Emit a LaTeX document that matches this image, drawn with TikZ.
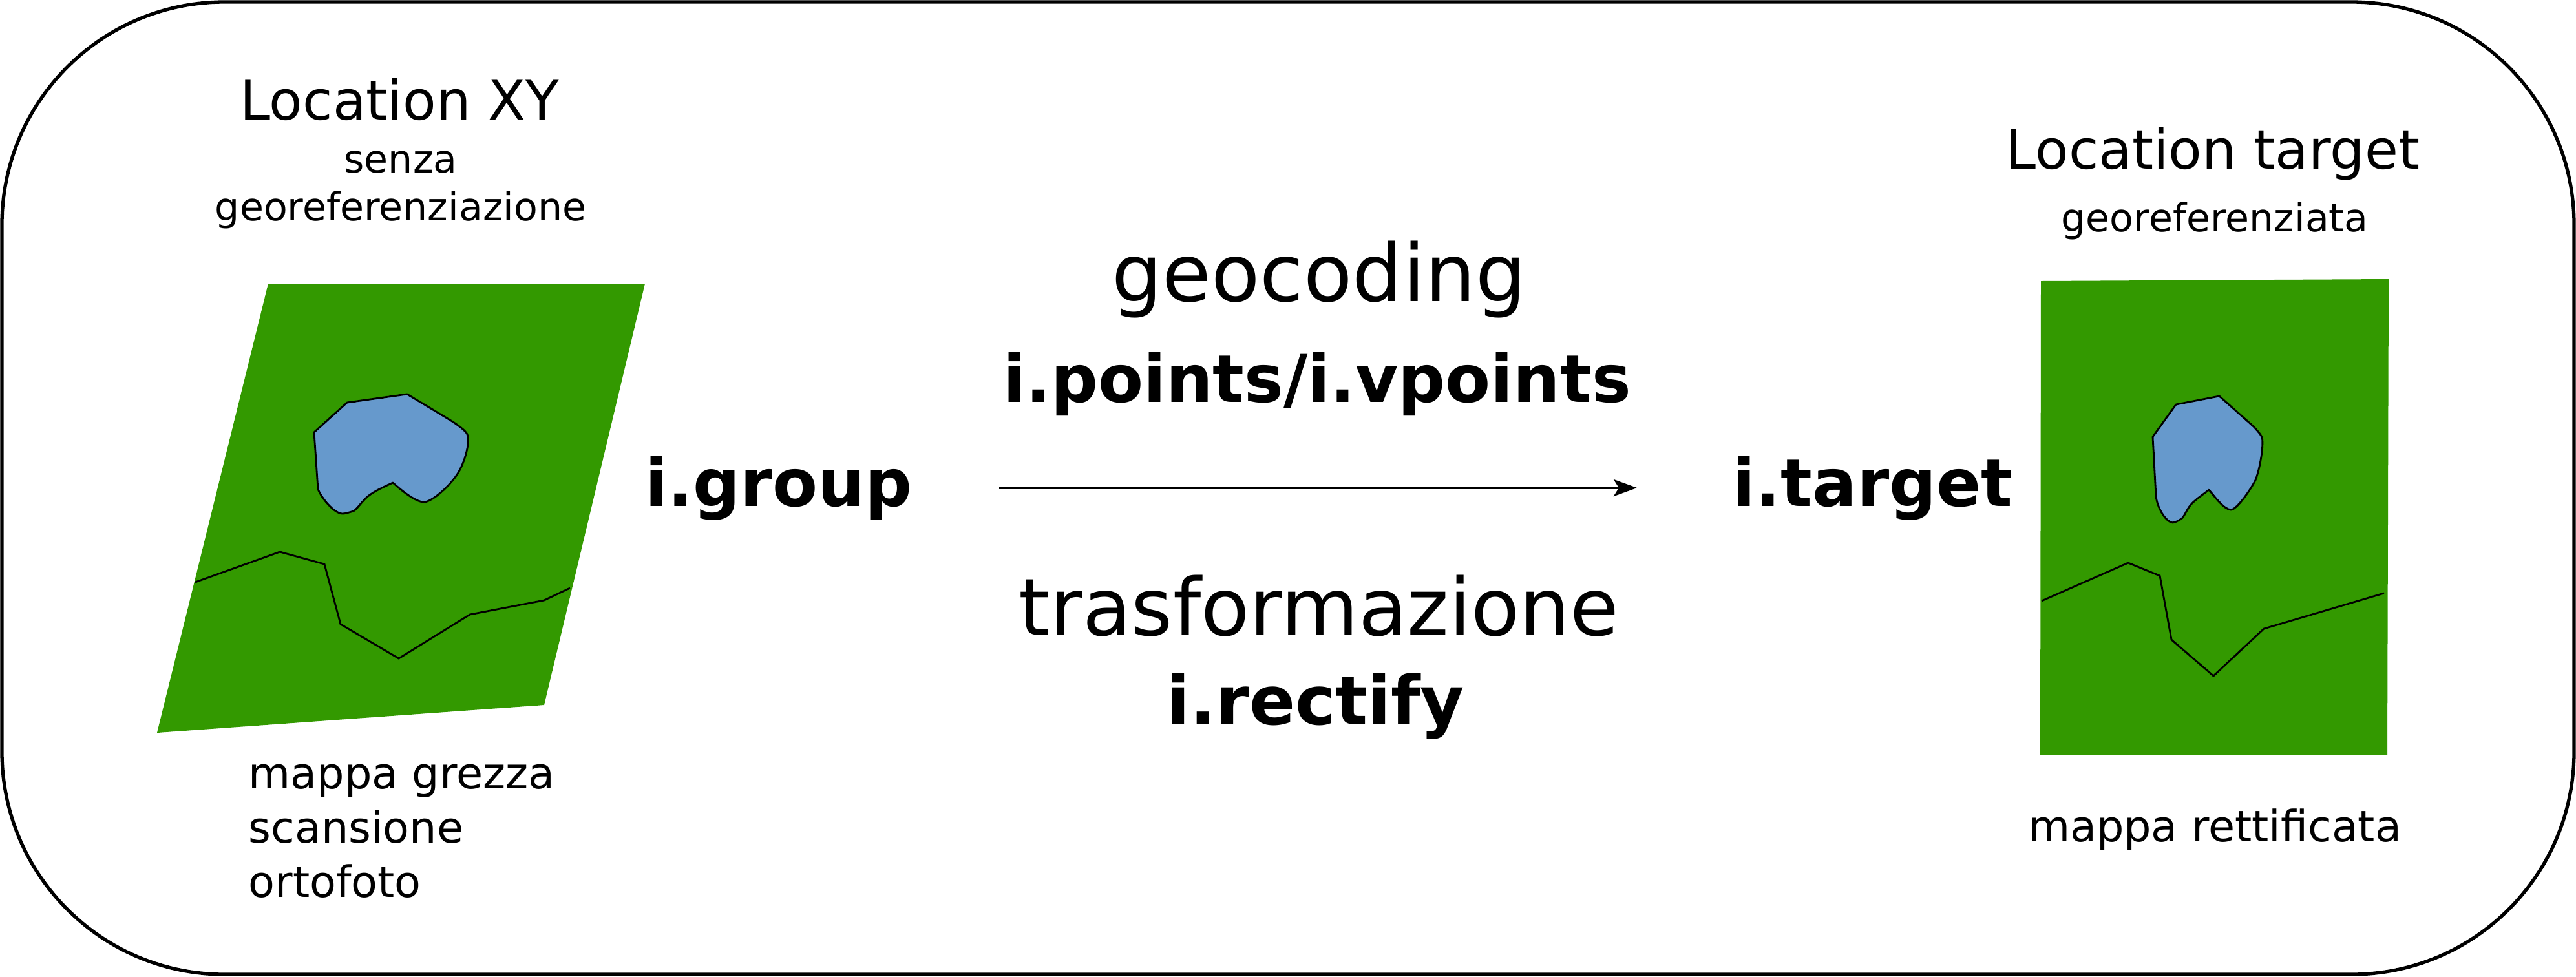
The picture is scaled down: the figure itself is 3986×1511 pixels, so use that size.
\documentclass[tikz,border=0pt]{standalone}
\usepackage{fontspec}
\setmainfont{DejaVu Sans}
\usetikzlibrary{arrows.meta}
\definecolor{mapgreen}{HTML}{339900}
\definecolor{lakeblue}{HTML}{6699CC}
\tikzset{
  frame/.style={draw=black,line width=1.5pt,rounded corners=98pt},
  land/.style={fill=mapgreen,draw=none},
  lake/.style={fill=lakeblue,draw=black,line width=0.8pt,line join=round},
  river/.style={draw=black,line width=0.8pt,line join=miter},
  txt/.style={inner sep=0pt,anchor=base,text=black},
  title/.style={txt,font=\fontsize{24}{28}\selectfont},
  small/.style={txt,font=\fontsize{17.1}{20}\selectfont},
  note/.style={txt,font=\fontsize{19}{23}\selectfont},
  big/.style={txt,font=\fontsize{35}{42}\selectfont},
  cmd/.style={txt,font=\fontsize{29}{35}\selectfont\bfseries},
  flow/.style={draw=black,line width=1.1pt,-{Stealth[length=36\pxu,width=26\pxu,inset=8\pxu]}}
}
\newcommand{\pxu}{*0.2845pt}
\begin{document}
\begin{tikzpicture}[x=0.01cm,y=-0.01cm]
\useasboundingbox (0,0) rectangle (3986,1511);
\draw[frame] (3,3) rectangle (3983,1508);
% left map
\fill[land] (415,439) -- (998,439) -- (842,1091) -- (243,1134) -- cycle;
\draw[lake] (486,669) -- (537,623) -- (630,610) -- (693,648)
  .. controls (708,657) and (720,666) .. (723,672)
  .. controls (727,682) and (722,708) .. (710,730)
  .. controls (697,752) and (668,777) .. (656,777)
  .. controls (643,777) and (620,758) .. (608,747)
  .. controls (590,755) and (574,763) .. (566,771)
  .. controls (558,779) and (552,788) .. (547,791)
  .. controls (540,793) and (534,795) .. (530,795)
  .. controls (517,795) and (497,770) .. (492,757) -- cycle;
\draw[river] (302,901) -- (433,854) -- (502,873) -- (527,966) -- (617,1019) -- (727,951) -- (842,929) -- (882,910);
% right map
\fill[land] (3158,435) -- (3696,432) -- (3694,1168) -- (3157,1168) -- cycle;
\draw[lake] (3331,676) -- (3367,626) -- (3434,613) -- (3487,660)
  .. controls (3497,671) and (3499,674) .. (3500,677)
  .. controls (3503,686) and (3498,722) .. (3490,743)
  .. controls (3480,762) and (3460,789) .. (3452,789)
  .. controls (3441,788) and (3428,770) .. (3418,758)
  .. controls (3408,766) and (3397,773) .. (3390,781)
  .. controls (3383,789) and (3380,800) .. (3375,803)
  .. controls (3371,806) and (3366,808) .. (3362,809)
  .. controls (3350,807) and (3338,785) .. (3336,768) -- cycle;
\draw[river] (3159,930) -- (3293,871) -- (3342,891) -- (3360,990) -- (3425,1046) -- (3503,973) -- (3689,918);
% arrow
\coordinate (flowstart) at (1546,755);
\coordinate (flowend) at (2533,755);
\draw[flow] (flowstart) -- (flowend);
% labels
\node[title] (locxy) at (618,185) {Location XY};
\node[small] (senza) at (620,267) {senza};
\node[small] (georef) at (620,341) {georeferenziazione};
\node[cmd] (group) at (1205,783) {i.group};
\node[big] (geocoding) at (2041,466) {geocoding};
\node[cmd] (points) at (2038,622) {i.points/i.vpoints};
\node[big] (trasf) at (2041,983) {trasformazione};
\node[cmd,font=\fontsize{29.8}{35}\selectfont\bfseries] (rectify) at (2036,1121) {i.rectify};
\node[cmd] (target) at (2898,783) {i.target};
\node[title] (loctarget) at (3424,261) {Location target};
\node[small] (georefta) at (3427,358) {georeferenziata};
\node[note,anchor=base west] (mappa) at (384,1220) {mappa grezza};
\node[note,anchor=base west] (scans) at (384,1304) {scansione};
\node[note,anchor=base west] (orto) at (384,1388) {ortofoto};
\node[note] (rett) at (3427,1302) {mappa rettificata};
\end{tikzpicture}
\end{document}
